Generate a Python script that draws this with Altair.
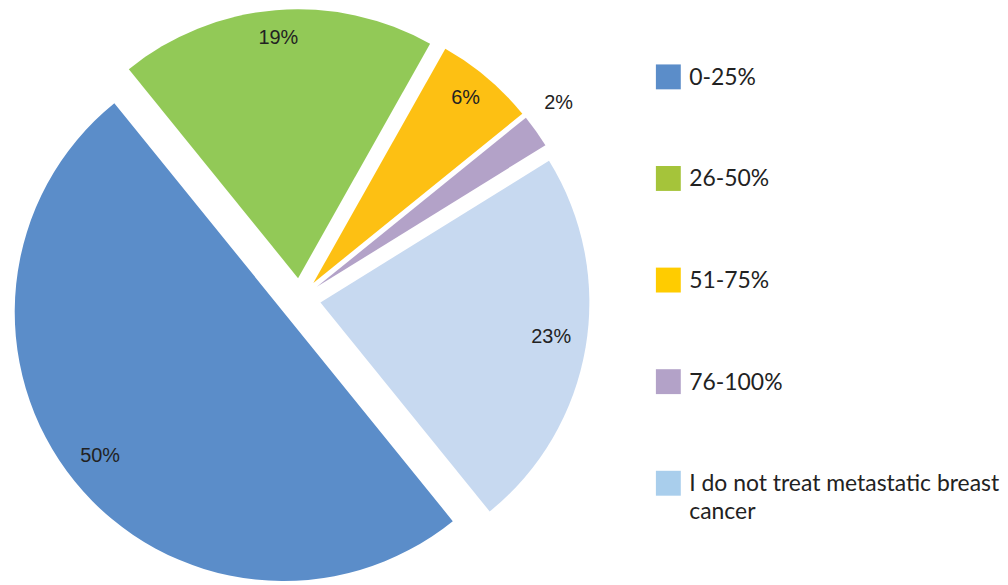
import math
import altair as alt
import pandas as pd

# ---- data ----
categories = ["0-25%", "26-50%", "51-75%", "76-100%",
              "I do not treat metastatic breast cancer"]
values = [50, 19, 6, 2, 23]
slice_labels = ["50%", "19%", "6%", "2%", "23%"]
legend_labels = ["0-25%", "26-50%", "51-75%", "76-100%",
                 "I do not treat metastatic breast\ncancer"]
pie_colors = ["#5B8DC9", "#92C957", "#FDC013", "#B3A2C8", "#C7D9F0"]
legend_colors = ["#5B8DC9", "#A5C43A", "#FFCC00", "#B3A2C8", "#A9CEEC"]

df = pd.DataFrame({
    "idx": list(range(len(categories))),
    "category": categories,
    "value": values,
    "label": slice_labels,
    "legend": legend_labels,
})

# ---- layout parameters ----
START = math.radians(141)
EXPLODE = 21
RADIUS = 270
PIE_W, PIE_H = 640, 569
LEG_W = 352
CX, CY = 293, 291  # pie centre inside the pie view

xs = alt.Scale(domain=[-CX, PIE_W - CX], range=[0, PIE_W], nice=False, zero=False)
ys = alt.Scale(domain=[-CY, PIE_H - CY], range=[0, PIE_H], nice=False, zero=False)

base = alt.Chart(df).transform_window(
    cum="sum(value)", sort=[alt.SortField("idx")], frame=[None, 0]
).transform_joinaggregate(
    total="sum(value)"
).transform_calculate(
    mid=f"{START} + 2*PI*(datum.cum - datum.value/2)/datum.total"
).transform_calculate(
    ox=f"{EXPLODE}*sin(datum.mid)",
    oy=f"-{EXPLODE}*cos(datum.mid)",
    lr="datum.value < 3 ? 302 : (datum.idx == 4 ? 235 : 237)",
    la="datum.value < 3 ? datum.mid - 0.02 : datum.mid",
).transform_calculate(
    lx="datum.ox + datum.lr*sin(datum.la)",
    ly="datum.oy - datum.lr*cos(datum.la)",
)

arcs = base.mark_arc(radius=RADIUS).encode(
    theta=alt.Theta("value:Q", stack=True,
                    scale=alt.Scale(range=[START, START + 2 * math.pi])),
    order=alt.Order("idx:O"),
    color=alt.Color("category:N", legend=None,
                    scale=alt.Scale(domain=categories, range=pie_colors)),
    x=alt.X("ox:Q", scale=xs, axis=None),
    y=alt.Y("oy:Q", scale=ys, axis=None),
)

texts = base.mark_text(font="Liberation Sans", fontSize=20, color="#222222",
                       align="center", baseline="middle", dy=-5).encode(
    x=alt.X("lx:Q", scale=xs, axis=None),
    y=alt.Y("ly:Q", scale=ys, axis=None),
    text="label:N",
)

pie = alt.layer(arcs, texts).properties(width=PIE_W, height=PIE_H)

leg_y = alt.Y("category:N", axis=None, sort=categories,
              scale=alt.Scale(domain=categories, range=[68, 476], type="point", padding=0))

swatches = alt.Chart(df).mark_square(size=625, opacity=1).encode(
    x=alt.value(23),
    y=leg_y,
    color=alt.Color("category:N", legend=None,
                    scale=alt.Scale(domain=categories, range=legend_colors)),
)

leg_text = alt.Chart(df).mark_text(font="Lato", fontSize=23, color="#222222",
                                   align="left", baseline="alphabetic", dy=8,
                                   lineBreak="\n", lineHeight=28).encode(
    x=alt.value(44),
    y=leg_y,
    text="legend:N",
)

legend = alt.layer(swatches, leg_text).properties(width=LEG_W, height=PIE_H)

chart = alt.hconcat(pie, legend, spacing=0).resolve_scale(
    color="independent", x="independent", y="independent"
).properties(padding=0).configure_view(strokeWidth=0)

chart.save("out.html", embed_options={"renderer": "svg", "actions": False})
